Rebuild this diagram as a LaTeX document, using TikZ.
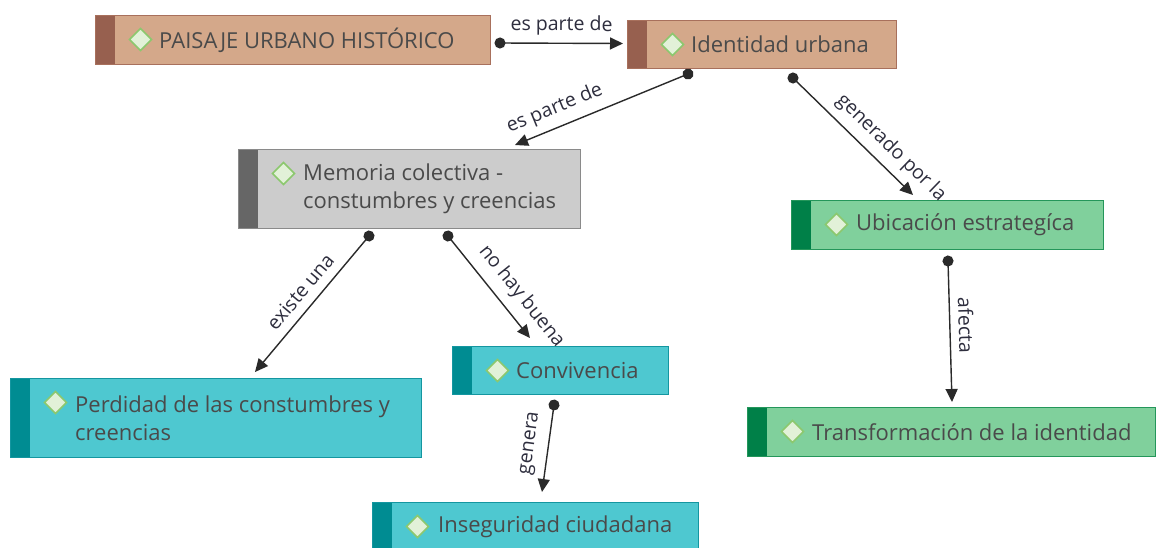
\documentclass[tikz,border=0pt]{standalone}
\usepackage{fontspec}
\setmainfont{Open Sans}
\usepackage{tikz}
\usetikzlibrary{arrows.meta, positioning}
\definecolor{brownFill}{HTML}{D4A88A}
\definecolor{brownStrip}{HTML}{97604F}
\definecolor{brownLine}{HTML}{A8705C}
\definecolor{grayFill}{HTML}{CCCCCC}
\definecolor{grayStrip}{HTML}{666666}
\definecolor{grayLine}{HTML}{8A8A8A}
\definecolor{greenFill}{HTML}{80D09C}
\definecolor{greenStrip}{HTML}{008048}
\definecolor{greenLine}{HTML}{24965A}
\definecolor{cyanFill}{HTML}{4EC8D0}
\definecolor{cyanStrip}{HTML}{008C92}
\definecolor{cyanLine}{HTML}{1496A0}
\definecolor{diamFill}{HTML}{E2F1D8}
\definecolor{diamLine}{HTML}{8CC86E}
\definecolor{txtGray}{HTML}{4A4A4A}
\definecolor{lblGray}{HTML}{2E2E3E}
\definecolor{linkGray}{HTML}{2A2A2A}

\tikzset{
	box/.style={rectangle, draw, line width=1pt, inner sep=0pt, anchor=north west,
		path picture={
			\fill[#1] (path picture bounding box.north west) rectangle ([xshift=19pt]path picture bounding box.south west);
			\filldraw[fill=diamFill, draw=diamLine, line width=1.6pt] ([xshift=45pt, yshift=-24pt]path picture bounding box.north west)
				+(-11pt,0pt) -- +(0pt,11pt) -- +(11pt,0pt) -- +(0pt,-11pt) -- cycle;
		}},
	brownBox/.style={box=brownStrip, fill=brownFill, draw=brownLine},
	grayBox/.style={box=grayStrip, fill=grayFill, draw=grayLine},
	greenBox/.style={box=greenStrip, fill=greenFill, draw=greenLine},
	cyanBox/.style={box=cyanStrip, fill=cyanFill, draw=cyanLine},
	txt/.style={inner sep=0pt, align=left, text=txtGray, font=\fontsize{22}{28}\selectfont},
	lbl/.style={inner sep=1pt, text=lblGray, font=\fontsize{19.5}{22}\selectfont, sloped},
	link/.style={line width=1.4pt, draw=linkGray, {Circle[length=11pt]}-{Triangle[length=13pt, width=12pt]}, shorten <=-5.5pt}
}

\begin{document}
\begin{tikzpicture}[x=1pt, y=-1pt]
	\useasboundingbox[fill=white] (0,0) rectangle (1156,547);
	% concepts
	\node[brownBox, minimum width=395pt, minimum height=49pt] (pai) at (95,15) {};
	\node[brownBox, minimum width=269pt, minimum height=48pt] (ide) at (627,20) {};
	\node[grayBox, minimum width=342pt, minimum height=79pt] (mem) at (238,149) {};
	\node[greenBox, minimum width=312pt, minimum height=49pt] (ubi) at (791,200) {};
	\node[cyanBox, minimum width=411pt, minimum height=79pt] (per) at (10,378) {};
	\node[cyanBox, minimum width=216pt, minimum height=48pt] (con) at (452,346) {};
	\node[cyanBox, minimum width=326pt, minimum height=48pt] (ins) at (372,502) {};
	\node[greenBox, minimum width=408pt, minimum height=49pt] (tra) at (747,407) {};

	\node[txt, right=64pt of pai.west] (paiText) {PAISAJE URBANO HISTÓRICO};
	\node[txt, right=64pt of ide.west] (ideText) {Identidad urbana};
	\node[txt, right=65pt of mem.west] (memText) {Memoria colectiva -\\constumbres y creencias};
	\node[txt, right=65pt of ubi.west] (ubiText) {Ubicación estrategíca};
	\node[txt, right=65pt of per.west] (perText) {Perdidad de las constumbres y\\creencias};
	\node[txt, right=64pt of con.west] (conText) {Convivencia};
	\node[txt, right=66pt of ins.west] (insText) {Inseguridad ciudadana};
	\node[txt, right=65pt of tra.west] (traText) {Transformación de la identidad};

	% links
	\draw[link] ([xshift=9pt, yshift=-3pt]pai.east) -- ([xshift=-4pt, yshift=1pt]ide.west)
		node[lbl, midway, above=6pt] (l1) {es parte de};
	\draw[link] ([xshift=61pt, yshift=-5pt]ide.south west) -- ([xshift=277pt, yshift=4pt]mem.north west)
		node[lbl, pos=.73, above=7pt] (l2) {es parte de};
	\draw[link] ([xshift=166pt, yshift=-9pt]ide.south west) -- ([xshift=122pt, yshift=5pt]ubi.north west)
		node[lbl, pos=.71, above=7pt] (l3) {generado por la};
	\draw[link] ([xshift=131pt, yshift=-7pt]mem.south west) -- ([xshift=245pt, yshift=6pt]per.north west)
		node[lbl, pos=.49, above=8pt] (l4) {existe una};
	\draw[link] ([xshift=210pt, yshift=-7pt]mem.south west) -- ([xshift=78pt, yshift=8pt]con.north west)
		node[lbl, pos=.71, above=8pt] (l5) {no hay buena};
	\draw[link] ([xshift=102pt, yshift=-10pt]con.south west) -- ([xshift=170pt, yshift=10pt]ins.north west)
		node[lbl, pos=.47, above=8pt] (l6) {genera};
	\draw[link] ([xshift=157pt, yshift=-11pt]ubi.south west) -- ([xshift=205pt, yshift=5pt]tra.north west)
		node[lbl, pos=.46, above=7pt] (l7) {afecta};
\end{tikzpicture}
\end{document}
